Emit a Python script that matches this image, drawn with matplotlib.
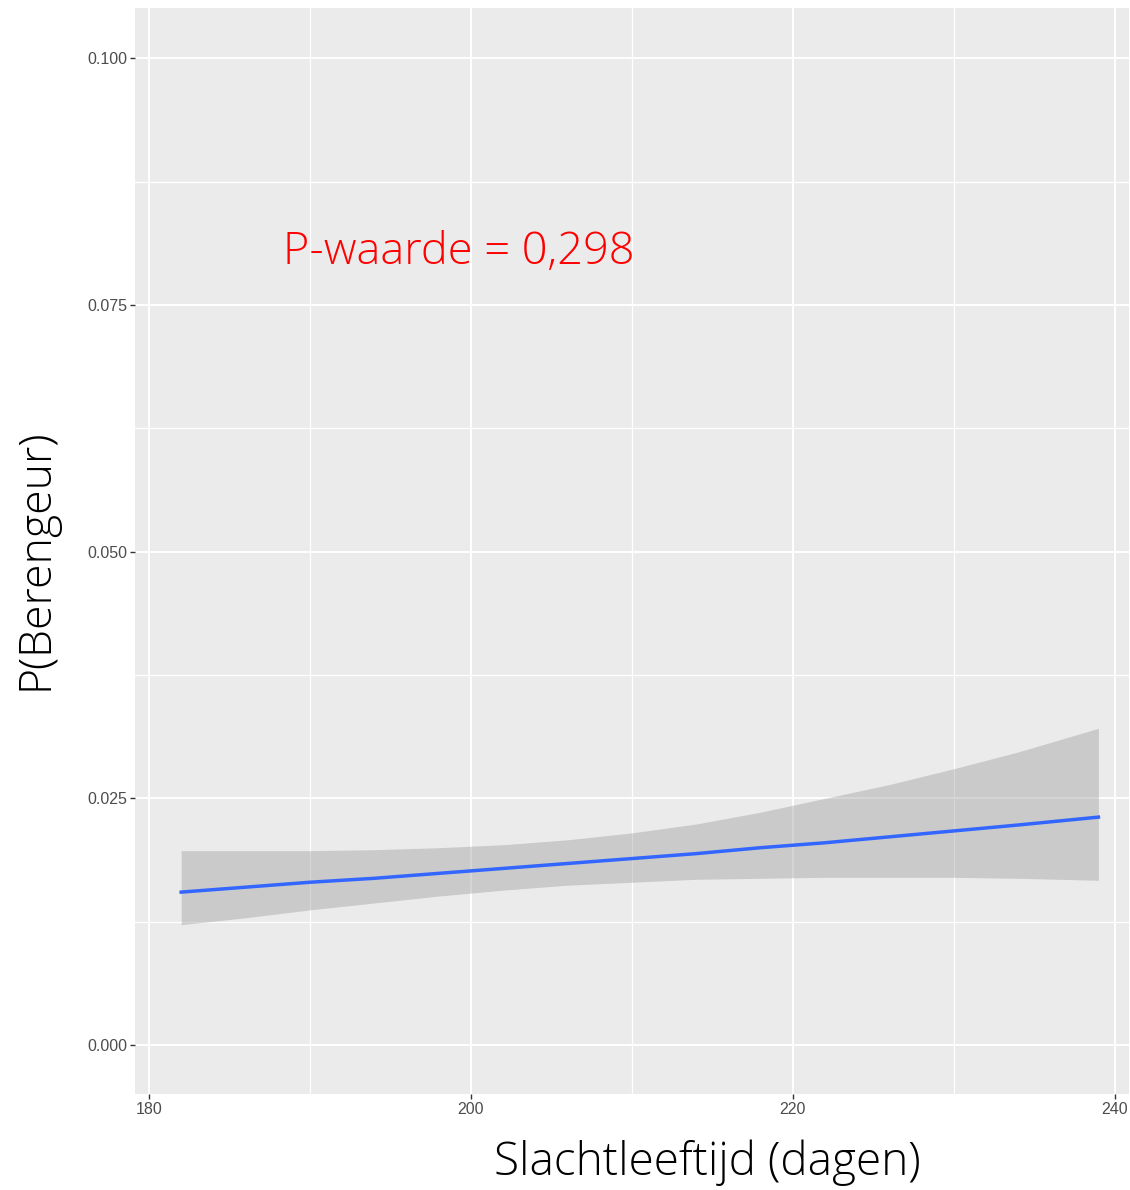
import matplotlib
matplotlib.use("Agg")
import matplotlib.pyplot as plt
from matplotlib.ticker import FixedLocator

# Data
days = [182, 186, 190, 194, 198, 202, 206, 210, 214, 218, 222, 226, 230, 234, 239]
fit = [0.0155, 0.0160, 0.0165, 0.0169, 0.0174, 0.0179, 0.0184, 0.0189, 0.0194,
       0.0200, 0.0205, 0.0211, 0.0217, 0.0223, 0.0231]
upper = [0.0197, 0.0197, 0.0197, 0.0198, 0.0200, 0.0203, 0.0208, 0.0215, 0.0224,
         0.0236, 0.0250, 0.0264, 0.0280, 0.0297, 0.0321]
lower = [0.0122, 0.0129, 0.0137, 0.0144, 0.0151, 0.0157, 0.0162, 0.0165, 0.0168,
         0.0169, 0.0170, 0.0170, 0.0170, 0.0169, 0.0167]
x_ticks = [180, 200, 220, 240]
y_ticks = [0.000, 0.025, 0.050, 0.075, 0.100]
y_tick_labels = ["0.000", "0.025", "0.050", "0.075", "0.100"]
annotation = "P-waarde = 0,298"
x_label = "Slachtleeftijd (dagen)"
y_label = "P(Berengeur)"

W, H = 1130, 1190
fig = plt.figure(figsize=(W / 100, H / 100), dpi=100)
ax = fig.add_axes([135 / W, 1 - 1094 / H, (1129 - 135) / W, (1094 - 8) / H])
ax.set_facecolor("#EBEBEB")
for s in ax.spines.values():
    s.set_visible(False)

ax.set_xlim(179.13, 240.9)
ax.set_ylim(-0.00496, 0.1051)

ax.xaxis.set_major_locator(FixedLocator(x_ticks))
ax.xaxis.set_minor_locator(FixedLocator([190, 210, 230]))
ax.yaxis.set_major_locator(FixedLocator(y_ticks))
ax.yaxis.set_minor_locator(FixedLocator([0.0125, 0.0375, 0.0625, 0.0875]))
ax.set_yticklabels(y_tick_labels)
ax.grid(which="major", color="white", linewidth=1.4)
ax.grid(which="minor", color="white", linewidth=0.9)
ax.set_axisbelow(True)
ax.tick_params(which="major", length=3.5, width=1, color="#333333",
               labelsize=11.5, labelcolor="#4D4D4D", pad=2)
ax.tick_params(which="minor", length=0)
for lab in ax.get_xticklabels() + ax.get_yticklabels():
    lab.set_fontfamily("Liberation Sans")

ax.fill_between(days, lower, upper, color="#999999", alpha=0.4, linewidth=0)
ax.plot(days, fit, color="#3366FF", linewidth=2.5)

ax.text(188.3, 0.0803, annotation, color="#FF0000", fontsize=32.5,
        family="Open Sans", fontweight="light", va="center", ha="left")

fig.text(707 / W, 1 - 1163 / H, x_label, fontsize=33, family="Open Sans",
         fontweight="light", ha="center", va="center", color="black")
fig.text(36 / W, 1 - 559 / H, y_label, fontsize=32, family="Open Sans",
         fontweight="light", ha="center", va="center", rotation=90, color="black")

fig.savefig("out.png", dpi=100, facecolor="white")
